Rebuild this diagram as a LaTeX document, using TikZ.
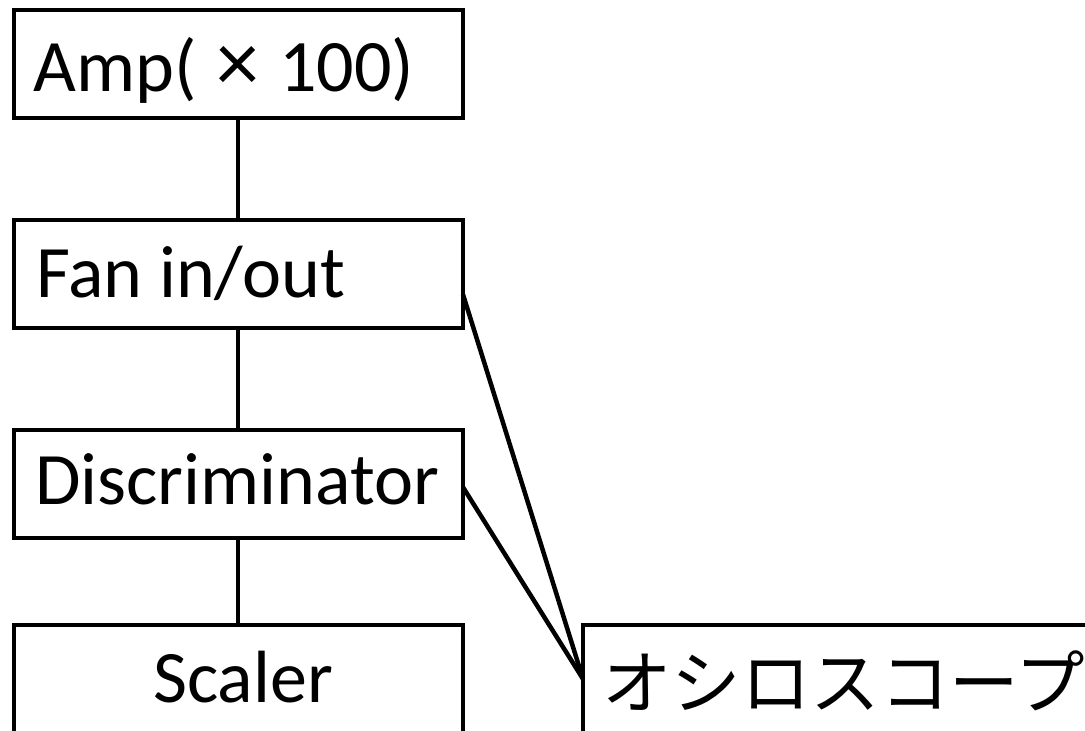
\documentclass[tikz,border=0pt]{standalone}
\usepackage{fontspec}
\setmainfont{Carlito}
\newfontfamily\jpfont{Noto Sans CJK JP}
\usetikzlibrary{calc}
\begin{document}
\begin{tikzpicture}[x=1pt,y=1pt,
  box/.style={draw, line width=4.5pt, inner sep=0pt, outer sep=0pt, minimum width=449pt, anchor=north west},
  lbl/.style={font=\fontsize{74}{80}\selectfont, inner sep=0pt, anchor=base west},
  jlbl/.style={font=\jpfont\fontsize{69.5}{75}\selectfont, inner sep=0pt, anchor=base west},
  wire/.style={line width=4.5pt}]
\useasboundingbox (0,0) rectangle (1085,731);
\node[box, minimum height=108pt] (amp) at (14,721) {};
\node[box, minimum height=108pt] (fan) at (14,511) {};
\node[box, minimum height=108pt] (disc) at (14,301) {};
\node[box, minimum height=140pt] (scaler) at (14,106) {};
\node[box, minimum width=520pt, minimum height=140pt] (osc) at (583,106) {};
\node[lbl] (tamp) at (33,639) {Amp(\hspace{20pt}{\fontsize{86}{100}\selectfont ×}\hspace{20pt}100)};
\node[lbl] (tfan) at (36,433) {Fan in/out};
\node[lbl] (tdisc) at (35,226) {Discriminator};
\node[lbl] (tscaler) at (153,28) {Scaler};
\node[jlbl] (tosc) at (602,22) {オシロスコープ};
\coordinate (oscin) at ($(osc.north west)+(0,-54)$);
\draw[wire] (amp.south -| 238,0) -- (fan.north -| 238,0);
\draw[wire] (fan.south -| 238,0) -- (disc.north -| 238,0);
\draw[wire] (disc.south -| 238,0) -- (scaler.north -| 238,0);
\draw[wire] ($(fan.north east)!0.69!(fan.south east)$) -- (oscin);
\draw[wire] ($(disc.north east)!0.53!(disc.south east)$) -- (oscin);
\end{tikzpicture}
\end{document}
